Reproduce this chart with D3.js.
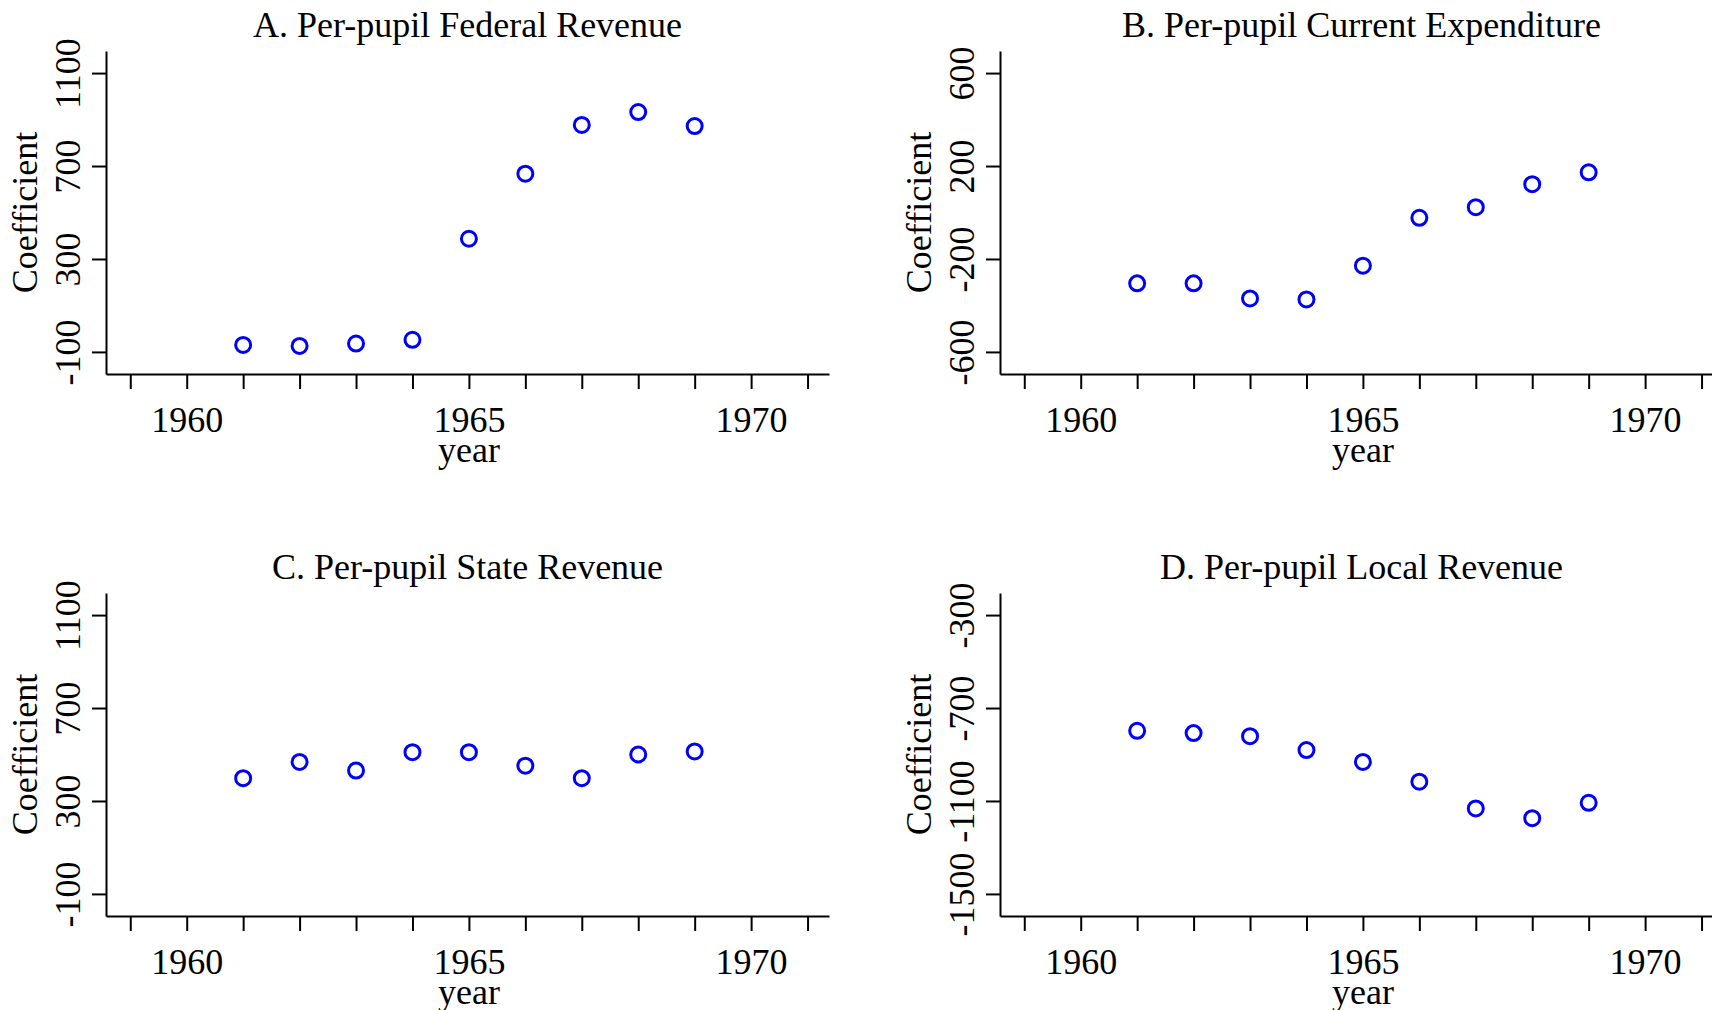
<!DOCTYPE html>
<html>
<head>
<meta charset="utf-8">
<script src="https://cdn.jsdelivr.net/npm/d3@7"></script>
<style>
  body { margin: 0; background: #fff; }
  svg text { font-family: "Liberation Serif", "Times New Roman", serif; fill: #000; }
</style>
</head>
<body>
<div id="chart"></div>
<script>
// event-study coefficients by year
var years = [1961, 1962, 1963, 1964, 1965, 1966, 1967, 1968, 1969];
var federalRev = [-70, -74, -64, -48, 387, 667, 877, 932, 872];
var currentExp = [-305, -305, -370, -374, -229, -23, 23, 122, 173];
var stateRev = [398, 468, 431, 510, 510, 452, 398, 500, 513];
var localRev = [-798, -808, -821, -881, -932, -1017, -1132, -1174, -1108];

var titles = ["A. Per-pupil Federal Revenue", "B. Per-pupil Current Expenditure",
    "C. Per-pupil State Revenue", "D. Per-pupil Local Revenue"];
var yTicksA = [-100, 300, 700, 1100];
var yTicksB = [-600, -200, 200, 600];
var yTicksC = [-100, 300, 700, 1100];
var yTicksD = [-1500, -1100, -700, -300];
var xTicks = d3.range(1959, 1972);
var xLabels = [1960, 1965, 1970];

var width = 1712;
var height = 1010;
var plotW = 723;
var plotH = 323;

var svg = d3.select("#chart")
    .append("svg")
    .attr("width", width)
    .attr("height", height);

svg.append("rect").attr("width", width).attr("height", height).attr("fill", "#fff");

var panels = [
    {title: titles[0], values: federalRev, ticks: yTicksA, domain: [-195, 1195], left: 106, top: 51},
    {title: titles[1], values: currentExp, ticks: yTicksB, domain: [-695, 695], left: 1000, top: 51},
    {title: titles[2], values: stateRev, ticks: yTicksC, domain: [-195, 1195], left: 106, top: 593},
    {title: titles[3], values: localRev, ticks: yTicksD, domain: [-1595, -205], left: 1000, top: 593}
];

panels.forEach(function (p) {
    var g = svg.append("g").attr("transform", "translate(" + p.left + "," + p.top + ")");

    var xScale = d3.scaleLinear().domain([1958.57, 1971.38]).range([0, plotW]);
    var yScale = d3.scaleLinear().domain(p.domain).range([plotH, 0]);

    var xAxis = d3.axisBottom(xScale)
        .tickValues(xTicks)
        .tickSizeInner(15)
        .tickSizeOuter(0)
        .tickFormat(function (d) { return xLabels.indexOf(d) >= 0 ? String(d) : ""; });

    var yAxis = d3.axisLeft(yScale)
        .tickValues(p.ticks)
        .tickSizeInner(14)
        .tickSizeOuter(0)
        .tickFormat(function (d) { return String(d); });

    var gx = g.append("g").attr("transform", "translate(0," + plotH + ")").call(xAxis);
    gx.selectAll("text").attr("y", 58).attr("dy", 0).style("font-size", "36px");

    var gy = g.append("g").call(yAxis);
    gy.selectAll("text")
        .attr("x", null).attr("dy", null)
        .attr("text-anchor", "middle")
        .attr("transform", "translate(-26,0) rotate(-90)")
        .style("font-size", "36px");

    [gx, gy].forEach(function (a) {
        a.attr("font-family", null).attr("font-size", null);
        a.selectAll("path, line").attr("stroke", "#000").attr("stroke-width", 2);
    });

    g.append("text")
        .attr("x", plotW / 2)
        .attr("y", -14)
        .attr("text-anchor", "middle")
        .style("font-size", "36px")
        .text(p.title);

    g.append("text")
        .attr("x", xScale(1965))
        .attr("y", plotH + 88)
        .attr("text-anchor", "middle")
        .style("font-size", "36px")
        .text("year");

    g.append("text")
        .attr("transform", "translate(-69," + plotH / 2 + ") rotate(-90)")
        .attr("text-anchor", "middle")
        .style("font-size", "36px")
        .text("Coefficient");

    g.selectAll("circle").data(p.values)
        .enter()
        .append("circle")
        .attr("cx", function (d, i) { return xScale(years[i]); })
        .attr("cy", function (d) { return yScale(d); })
        .attr("r", 7.5)
        .attr("fill", "none")
        .attr("stroke", "#0000ff")
        .attr("stroke-width", 3);
});
</script>
</body>
</html>
